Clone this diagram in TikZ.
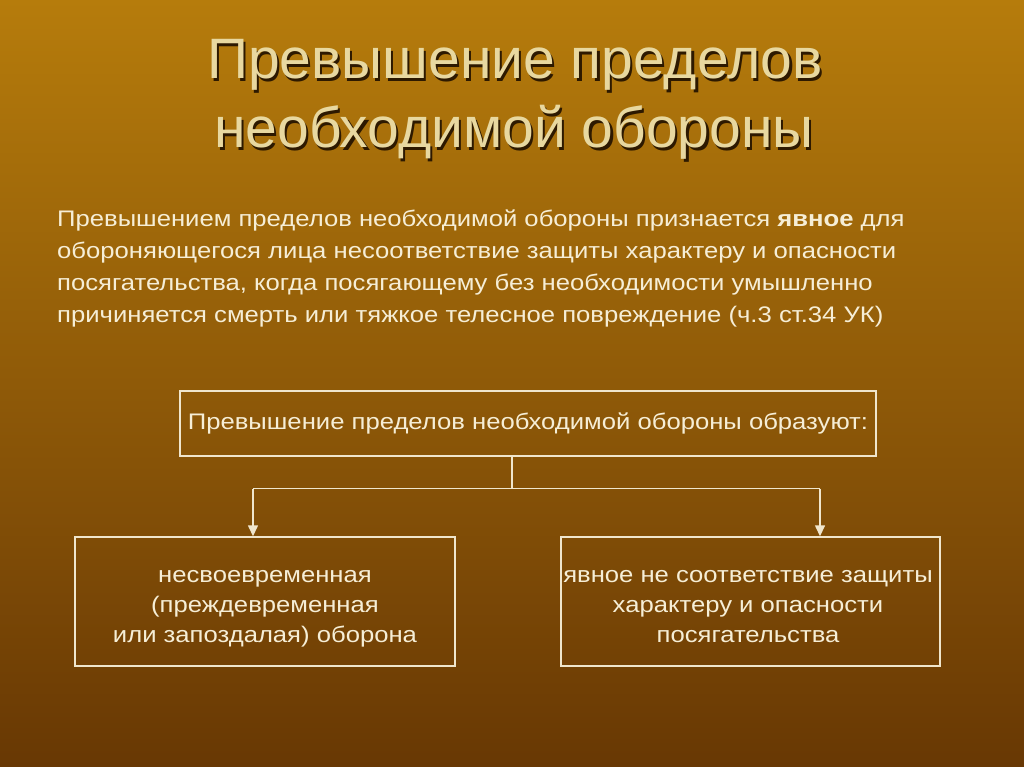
\documentclass[tikz,border=0pt]{standalone}
\usepackage{fontspec}
\setmainfont{Liberation Sans}
\newfontfamily\bodyf[FakeStretch=1.14]{Liberation Sans}
\usetikzlibrary{arrows.meta}
\definecolor{bgtop}{RGB}{182,124,12}
\definecolor{bgbot}{RGB}{104,56,4}
\definecolor{ttl}{RGB}{232,216,160}
\definecolor{txt}{RGB}{246,238,214}
\definecolor{shd}{RGB}{45,25,0}
\definecolor{ln}{RGB}{240,230,205}
\newcommand{\shadowed}[1]{\makebox[0pt][l]{\hspace{2.2pt}\raisebox{-2.5pt}{\color{shd}#1}}#1}
\tikzset{
  ttlfont/.style={font=\fontsize{57}{62}\selectfont, inner sep=0pt, anchor=base, text=ttl},
  bodyfont/.style={font=\bodyf\fontsize{22.5}{31.7}\selectfont, text=txt},
  boxtext/.style={font=\bodyf\fontsize{22.5}{30}\selectfont, text=txt, align=center, inner sep=0pt, anchor=base},
  box/.style={draw=ln, line width=1.4pt, inner sep=0pt},
  conn/.style={draw=ln, line width=1.4pt},
  arr/.style={conn, -{Triangle[length=11pt,width=10pt]}}
}
\begin{document}
\begin{tikzpicture}[x=1pt,y=-1pt]
\shade[top color=bgtop,bottom color=bgbot] (0,0) rectangle (1024,767);
\useasboundingbox (0,0) rectangle (1024,767);
% title with shadow
\node[ttlfont] (t1) at (515,79) {\shadowed{Превышение пределов}};
\node[ttlfont] (t2) at (514,148) {\shadowed{необходимой обороны}};
% paragraph
\node[bodyfont, align=left, anchor=north west, inner sep=0pt] (para) at (57,210)
 {Превышением пределов необходимой обороны признается \textbf{явное} для\\
  обороняющегося лица несоответствие защиты характеру и опасности\\
  посягательства, когда посягающему без необходимости умышленно\\
  причиняется смерть или тяжкое телесное повреждение (ч.3 ст.34 УК)};
% boxes
\node[box, bodyfont, minimum width=696pt, minimum height=65pt] (top) at (528,423.5)
 {Превышение пределов необходимой обороны образуют:};
\node[box, minimum width=380pt, minimum height=129pt] (left) at (265,601.5) {};
\node[box, minimum width=379pt, minimum height=129pt] (right) at (750.5,601.5) {};
\node[boxtext] (lefttext) at (265,642)
 {несвоевременная\\(преждевременная\\или запоздалая) оборона};
\node[boxtext] (righttext) at (748,642)
 {явное не соответствие защиты\\характеру и опасности\\посягательства};
% connectors
\coordinate (split) at (512,488.5);
\draw[conn] (top.south -| split) -- (split);
\coordinate (lk) at (253,488.5);
\coordinate (rk) at (820,488.5);
\draw[conn] (lk) -- (rk);
\draw[arr] (lk) -- (lk |- left.north);
\draw[arr] (rk) -- (rk |- right.north);
\end{tikzpicture}
\end{document}
